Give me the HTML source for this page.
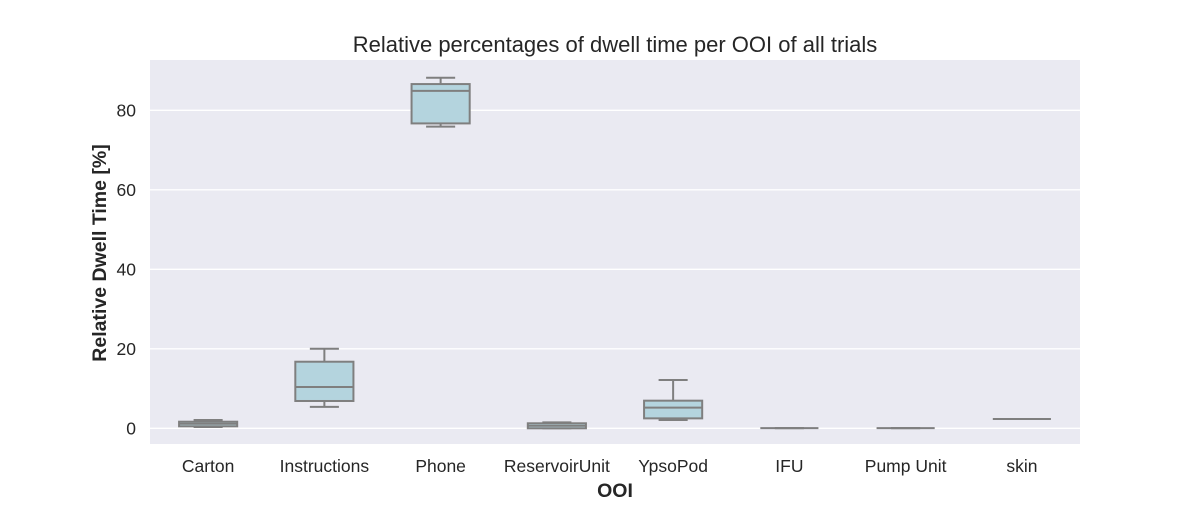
<!DOCTYPE html>
<html><head><meta charset="utf-8"><style>
body{margin:0;background:#fff;}
svg text{font-family:"Liberation Sans",Arial,sans-serif;fill:#262626;}
</style></head><body>
<svg width="1200" height="500" xmlns="http://www.w3.org/2000/svg">
<rect x="150" y="60" width="930" height="384" fill="#eaeaf2"/>
<g id="grid"></g>
<g id="boxes"></g>
<g id="xt"></g>
<text x="615" y="52" font-size="22" text-anchor="middle">Relative percentages of dwell time per OOI of all trials</text>
<text x="615" y="497" font-size="19.5" font-weight="bold" text-anchor="middle">OOI</text>
<text transform="translate(106,253) rotate(-90)" font-size="19.5" font-weight="bold" text-anchor="middle">Relative Dwell Time [%]</text>
</svg>
<script>
const categories=["Carton","Instructions","Phone","ReservoirUnit","YpsoPod","IFU","Pump Unit","skin"];
const whiskerLow=[0.33,5.4,75.9,0,2.1,0.05,0.05,2.35];
const q1=[0.5,6.87,76.7,0,2.5,0.05,0.05,2.35];
const median=[1.16,10.4,84.9,0.65,5.2,0.05,0.05,2.35];
const q3=[1.66,16.75,86.6,1.26,6.95,0.05,0.05,2.35];
const whiskerHigh=[2.1,20.0,88.2,1.5,12.15,0.05,0.05,2.35];
const yTicks=[0,20,40,60,80];
const NS="http://www.w3.org/2000/svg";
const x0=150,x1=1080,bw=(x1-x0)/categories.length;
const y=v=>428.3-v*3.975;
const xc=i=>x0+bw*(i+0.5);
function mk(t,a,p){const e=document.createElementNS(NS,t);for(const k in a)e.setAttribute(k,a[k]);p.appendChild(e);return e;}
const g=document.getElementById('grid'),b=document.getElementById('boxes'),xt=document.getElementById('xt');
yTicks.forEach(v=>{
 const l=mk('line',{x1:x0,x2:x1,y1:y(v),y2:y(v),stroke:'#fff','stroke-width':1.3},g);
 
 
 const t=mk('text',{x:136,y:y(v)+6,'font-size':17.5,'text-anchor':'end'},g);t.textContent=v;
 
 
});
const st={stroke:'#7f7f7f','stroke-width':2,fill:'none'};
categories.forEach((c,i)=>{
 const cx=xc(i),hw=bw*0.25,cw=bw*0.125;
 const grp=mk('g',{},b);
 
 
 mk('line',Object.assign({x1:cx,x2:cx,y1:y(whiskerHigh[i]),y2:y(q3[i])},st),grp);
 mk('line',Object.assign({x1:cx,x2:cx,y1:y(whiskerLow[i]),y2:y(q1[i])},st),grp);
 mk('line',Object.assign({x1:cx-cw,x2:cx+cw,y1:y(whiskerHigh[i]),y2:y(whiskerHigh[i])},st),grp);
 mk('line',Object.assign({x1:cx-cw,x2:cx+cw,y1:y(whiskerLow[i]),y2:y(whiskerLow[i])},st),grp);
 mk('rect',{x:cx-hw,y:y(q3[i]),width:2*hw,height:Math.max(0,y(q1[i])-y(q3[i])),fill:'#b4d4de',stroke:'#7f7f7f','stroke-width':2},grp);
 mk('line',Object.assign({x1:cx-hw,x2:cx+hw,y1:y(median[i]),y2:y(median[i])},st),grp);
 const t=mk('text',{x:cx,y:472,'font-size':17.5,'text-anchor':'middle'},xt);t.textContent=c;
 
 
});
</script>
</body></html>
